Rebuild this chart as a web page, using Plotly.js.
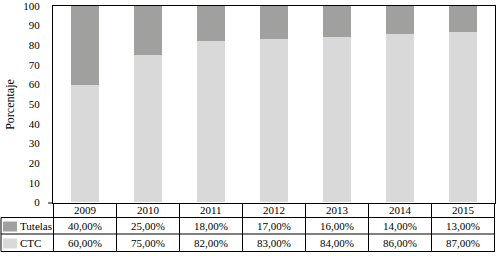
<!DOCTYPE html>
<html>
<head>
<meta charset="utf-8">
<script src="https://cdn.plot.ly/plotly-3.0.1.min.js"></script>
<style>html,body{margin:0;padding:0;background:#fff;}#chart{width:502px;height:256px;}</style>
</head>
<body>
<div id="chart"></div>
<script>
var years = ['2009','2010','2011','2012','2013','2014','2015'];
var ctc = [60, 75, 82, 83, 84, 86, 87];
var tutelas = [40, 25, 18, 17, 16, 14, 13];
var yTicks = [0,10,20,30,40,50,60,70,80,90,100];
var seriesNames = ['Tutelas','CTC'];
var colTutelas = '#a0a09e';
var colCTC = '#d9d9d9';

var W = 502, H = 256;
var mL = 53, mR = 7, mT = 6, mB = 53;
var pw = W - mL - mR, ph = H - mT - mB;
function px(x){ return (x - mL) / pw; }
function py(y){ return (H - mB - y) / ph; }

function fmt(v){ return v.toFixed(2).replace('.', ',') + '%'; }

var traces = [
  {type:'bar', x: years, y: ctc, name:'CTC', marker:{color: colCTC}, hoverinfo:'none'},
  {type:'bar', x: years, y: tutelas, name:'Tutelas', marker:{color: colTutelas}, hoverinfo:'none'}
];

var r1 = 217.5, r2 = 234, r3 = 251.5;
var lineStyle = {color:'#000', width:1};
var shapes = [];
shapes.push({type:'line', xref:'paper', yref:'paper', x0: px(1), x1: 1, y0: py(r1), y1: py(r1), line: lineStyle});
shapes.push({type:'line', xref:'paper', yref:'paper', x0: px(1), x1: 1, y0: py(r2), y1: py(r2), line: lineStyle});
shapes.push({type:'line', xref:'paper', yref:'paper', x0: px(1), x1: 1, y0: py(r3), y1: py(r3), line: lineStyle});
shapes.push({type:'line', xref:'paper', yref:'paper', x0: px(1), x1: px(1), y0: py(r1), y1: py(r3), line: lineStyle});
shapes.push({type:'line', xref:'paper', yref:'paper', x0: px(48), x1: 0, y0: 0, y1: 0, line: lineStyle});
for (var i = 0; i <= years.length; i++) {
  shapes.push({type:'line', xref:'x', yref:'paper', x0: i - 0.5, x1: i - 0.5, y0: 0, y1: py(r3), line: lineStyle});
}
shapes.push({type:'rect', xref:'paper', yref:'paper', x0: px(3), x1: px(17), y0: py(221.5), y1: py(231.5), fillcolor: colTutelas, line:{width:0}});
shapes.push({type:'rect', xref:'paper', yref:'paper', x0: px(3), x1: px(17), y0: py(238.5), y1: py(248.5), fillcolor: colCTC, line:{width:0}});

var fam = 'Liberation Serif, Times New Roman, serif';
var annFont = {family: fam, size:11, color:'#000'};
var annotations = [];
for (var j = 0; j < years.length; j++) {
  annotations.push({xref:'x', yref:'paper', x: j, y: py(210), text: years[j], showarrow:false, font: annFont, xanchor:'center', yanchor:'middle'});
  annotations.push({xref:'x', yref:'paper', x: j, y: py(226), text: fmt(tutelas[j]), showarrow:false, font: annFont, xanchor:'center', yanchor:'middle'});
  annotations.push({xref:'x', yref:'paper', x: j, y: py(243), text: fmt(ctc[j]), showarrow:false, font: annFont, xanchor:'center', yanchor:'middle'});
}
annotations.push({xref:'paper', yref:'paper', x: px(18), y: py(226), text: seriesNames[0], showarrow:false, font: annFont, xanchor:'left', yanchor:'middle'});
annotations.push({xref:'paper', yref:'paper', x: px(18), y: py(243), text: seriesNames[1], showarrow:false, font: annFont, xanchor:'left', yanchor:'middle'});

var layout = {
  width: W, height: H,
  margin: {l: mL, r: mR, t: mT, b: mB, pad: 0},
  paper_bgcolor:'#fff', plot_bgcolor:'#fff',
  font: {family: fam, size:11, color:'#000'},
  barmode:'stack',
  bargap: 0.57,
  showlegend:false,
  xaxis: {type:'category', showticklabels:false, ticks:'', showgrid:false, zeroline:false,
          showline:true, mirror:true, linecolor:'#000', linewidth:1, fixedrange:true},
  yaxis: {range:[-0.3,100], tickmode:'array', tickvals: yTicks, ticktext: yTicks.map(String),
          ticks:'outside', ticklen: 10, tickcolor:'rgba(0,0,0,0)', showgrid:false, zeroline:false,
          ticklabeloverflow:'allow',
          showline:true, mirror:true, linecolor:'#000', linewidth:1,
          title:{text:'Porcentaje', font:{family: fam, size:12}, standoff: 6}, automargin:false, fixedrange:true},
  shapes: shapes,
  annotations: annotations
};

Plotly.newPlot('chart', traces, layout, {displayModeBar:false, staticPlot:true}).then(function(gd){
  gd.querySelectorAll('.ytick').forEach(function(g){
    g.removeAttribute('display');
    g.style.display = '';
    g.style.opacity = '1';
    var t = g.querySelector('text');
    if (t) { t.removeAttribute('display'); t.style.display = ''; t.setAttribute('opacity', '1'); t.style.opacity = '1'; }
  });
});
</script>
</body>
</html>
